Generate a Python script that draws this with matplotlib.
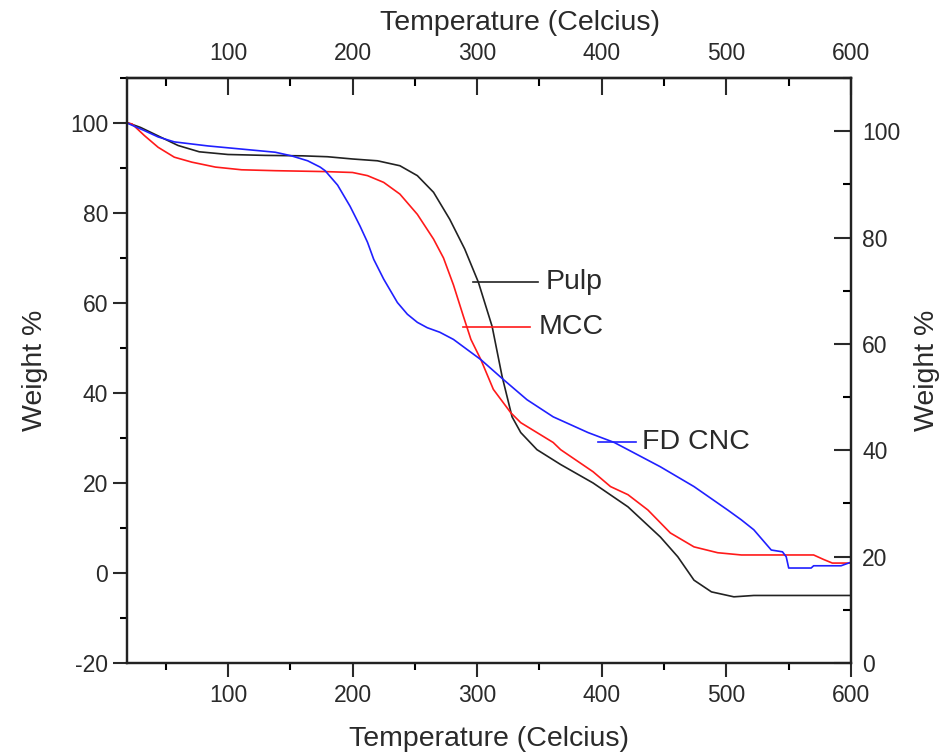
import numpy as np
import matplotlib.pyplot as plt
from matplotlib.ticker import MultipleLocator

plt.rcParams['font.family'] = ['Liberation Sans', 'DejaVu Sans']
plt.rcParams['axes.unicode_minus'] = False

# Pulp
t_pulp = [20, 30, 45, 60, 77, 100, 130, 160, 180, 200, 220, 238, 252, 265, 278, 290,
          301, 312, 320, 328, 335, 348, 367, 393, 421, 447, 461, 474, 488, 506, 522, 600]
w_pulp = [100, 99, 97, 95, 93.6, 93, 92.8, 92.7, 92.5, 92, 91.6, 90.5, 88.3, 84.6, 78.6, 72,
          64.6, 54.8, 43.7, 34.7, 31.2, 27.4, 24.1, 20, 14.7, 8, 3.6, -1.6, -4.2, -5.3, -5, -5]

# MCC
t_mcc = [19, 23, 33, 44, 57, 71, 90, 111, 138, 178, 200, 212, 225, 238, 252, 265, 273, 281,
         289, 295, 303, 313, 327, 335, 348, 361, 367, 393, 407, 421, 437, 455, 474, 493, 512,
         533, 570, 578, 585, 600]
w_mcc = [100, 99.8, 97.2, 94.6, 92.4, 91.3, 90.2, 89.6, 89.4, 89.2, 89, 88.3, 86.8, 84.2, 79.7,
         74.2, 70, 64, 57, 51.9, 47.4, 40.8, 35.6, 33.4, 31.2, 29, 27.4, 22.5, 19.2, 17.4, 14,
         8.9, 5.8, 4.5, 4, 4, 4, 3, 2.2, 2.2]

# FD CNC
t_cnc = [19, 33, 44, 57, 84, 111, 138, 151, 164, 174, 178, 188, 198, 206, 212, 217, 225, 236,
         244, 252, 260, 270, 281, 303, 321, 340, 361, 389, 410, 421, 447, 474, 501, 512, 522,
         536, 545, 548, 550, 568, 570, 592, 600]
w_cnc = [100, 98.3, 96.9, 95.8, 94.9, 94.2, 93.5, 92.7, 91.6, 90.2, 89.4, 86.2, 81.5, 77.1,
         73.5, 69.7, 65.3, 60.1, 57.5, 55.7, 54.5, 53.5, 51.9, 47.4, 43, 38.5, 34.7, 31.2, 29,
         27.4, 23.6, 19.2, 14, 11.8, 9.6, 5.1, 4.7, 3.6, 1.1, 1.1, 1.6, 1.6, 2.4]

tc = '#2a2a2a'
fs_tick = 16.5
fs_lab = 20.5

fig = plt.figure(figsize=(9.44, 7.55), dpi=100)
ax = fig.add_axes([0.1345, 0.1219, 0.767, 0.7748])

ax.plot(t_pulp, w_pulp, color='#222222', lw=1.2)
ax.plot(t_mcc, w_mcc, color='#ff1a1a', lw=1.2)
ax.plot(t_cnc, w_cnc, color='#2020ff', lw=1.2)

# curve labels with leader lines
ax.plot([296.6, 348.8], [64.6, 64.6], color='#222222', lw=1.2)
ax.text(355, 64.6, 'Pulp', fontsize=fs_lab, color=tc, va='center')
ax.plot([288.6, 342.5], [54.6, 54.6], color='#ff1a1a', lw=1.2)
ax.text(349, 54.6, 'MCC', fontsize=fs_lab, color=tc, va='center')
ax.plot([396.6, 427.2], [29.2, 29.2], color='#2020ff', lw=1.2)
ax.text(432, 29.2, 'FD CNC', fontsize=fs_lab, color=tc, va='center')

ax.set_xlim(19, 600)
ax.set_ylim(-20, 110)
ax.xaxis.set_major_locator(MultipleLocator(100))
ax.xaxis.set_minor_locator(MultipleLocator(50))
ax.yaxis.set_major_locator(MultipleLocator(20))
ax.yaxis.set_minor_locator(MultipleLocator(10))
ax.tick_params(which='major', direction='out', length=10, width=1.5, labelsize=fs_tick,
               colors=tc, pad=3.5)
ax.tick_params(axis='x', which='major', pad=5)
ax.tick_params(which='minor', direction='out', length=5, width=1.5)
ax.set_xlabel('Temperature (Celcius)', fontsize=fs_lab, color=tc, labelpad=14)
ax.set_ylabel('Weight %', fontsize=fs_lab, color=tc, labelpad=16)
for s in ax.spines.values():
    s.set_linewidth(1.6)
    s.set_color('#222222')

ax2 = ax.twinx()
ax2.set_ylim(0, 110)
ax2.yaxis.set_major_locator(MultipleLocator(20))
ax2.yaxis.set_minor_locator(MultipleLocator(10))
ax2.tick_params(which='major', direction='in', length=12, width=1.5, labelsize=fs_tick,
                colors=tc, pad=8)
ax2.tick_params(which='minor', direction='in', length=6, width=1.5)
ax2.set_ylabel('Weight %', fontsize=fs_lab, color=tc, labelpad=10)
for s in ax2.spines.values():
    s.set_linewidth(1.6)
    s.set_color('#222222')

top = ax.secondary_xaxis('top')
top.set_xticks(np.arange(100, 601, 100))
top.set_xticks(np.arange(50, 601, 50), minor=True)
top.tick_params(which='major', direction='in', length=12, width=1.5, labelsize=fs_tick,
                colors=tc, pad=9)
top.tick_params(which='minor', direction='in', length=6, width=1.5)
top.set_xlabel('Temperature (Celcius)', fontsize=fs_lab, color=tc)
top.xaxis.set_label_coords(0.543, 1.082, transform=ax.transAxes)
top.spines['top'].set_linewidth(1.6)

fig.savefig('out.png', dpi=100)
